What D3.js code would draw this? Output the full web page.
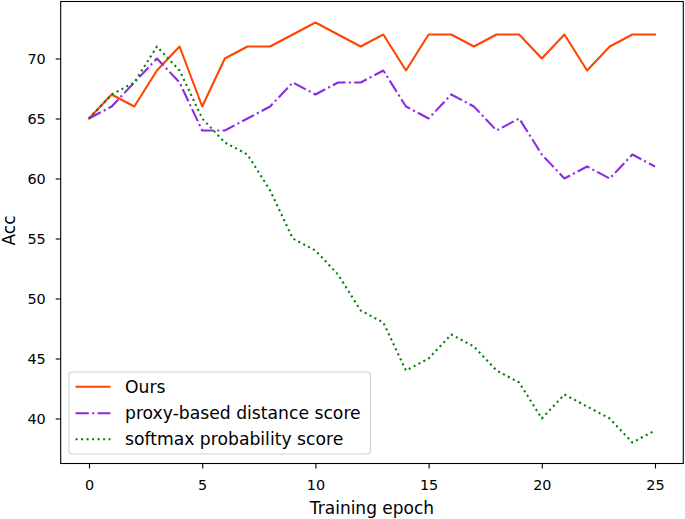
<!DOCTYPE html>
<html>
<head>
<meta charset="utf-8">
<script src="https://cdn.jsdelivr.net/npm/d3@7"></script>
<style>
  html, body { margin: 0; padding: 0; background: #fff; }
  svg { display: block; }
  text { font-family: "DejaVu Sans", sans-serif; fill: #000; }
</style>
</head>
<body>
<div id="chart"></div>
<script>
const epochs = d3.range(0, 26);
const oursValues = [65, 67, 66, 69, 71, 66, 70, 71, 71, 72, 73, 72, 71, 72, 69, 72, 72, 71, 72, 72, 70, 72, 69, 71, 72, 72];
const proxyValues = [65, 66, 68, 70, 68, 64, 64, 65, 66, 68, 67, 68, 68, 69, 66, 65, 67, 66, 64, 65, 62, 60, 61, 60, 62, 61];
const softmaxValues = [65, 67, 68, 71, 69, 65, 63, 62, 59, 55, 54, 52, 49, 48, 44, 45, 47, 46, 44, 43, 40, 42, 41, 40, 38, 39];
const seriesNames = ["Ours", "proxy-based distance score", "softmax probability score"];
const xTicks = [0, 5, 10, 15, 20, 25];
const yTicks = [40, 45, 50, 55, 60, 65, 70];
const xLabel = "Training epoch";
const yLabel = "Acc";

(function () {
const W = 685, H = 519;
const mLeft = 60.7, mRight = 683.3, mTop = 1.5, mBottom = 463.5;
const tickFont = "14.4px", labelFont = "17px", legendFont = "17.2px";

const series = [
  { name: seriesNames[0], values: oursValues, color: "#ff4500", dash: null },
  { name: seriesNames[1], values: proxyValues, color: "#8a2be2", dash: "13.3,3.3,2.1,3.3" },
  { name: seriesNames[2], values: softmaxValues, color: "#008000", dash: "2.08,3.44" }
];

const allVals = [].concat(oursValues, proxyValues, softmaxValues);
const xMin = d3.min(epochs), xMax = d3.max(epochs);
const yMin = d3.min(allVals), yMax = d3.max(allVals);
const xm = (xMax - xMin) * 0.05, ym = (yMax - yMin) * 0.05;

const x = d3.scaleLinear().domain([xMin - xm, xMax + xm]).range([mLeft, mRight]);
const y = d3.scaleLinear().domain([yMin - ym, yMax + ym]).range([mBottom, mTop]);

const svg = d3.select("#chart").append("svg").attr("width", W).attr("height", H);

const line = d3.line().x((d, i) => x(epochs[i])).y(d => y(d));

const plot = svg.append("g");
series.forEach(s => {
  plot.append("path")
    .datum(s.values)
    .attr("d", line)
    .attr("fill", "none")
    .attr("stroke", s.color)
    .attr("stroke-width", 2.08)
    .attr("stroke-linejoin", "round")
    .attr("stroke-linecap", s.dash ? "butt" : "square")
    .attr("stroke-dasharray", s.dash);
});

const xAxis = d3.axisBottom(x).tickValues(xTicks).tickSize(5).tickPadding(11.5).tickFormat(d3.format("d"));
const yAxis = d3.axisLeft(y).tickValues(yTicks).tickSize(5).tickPadding(10).tickFormat(d3.format("d"));

const gx = svg.append("g").attr("transform", `translate(0,${mBottom})`).call(xAxis);
const gy = svg.append("g").attr("transform", `translate(${mLeft},0)`).call(yAxis);
[gx, gy].forEach(g => {
  g.select(".domain").remove();
  g.selectAll(".tick line").attr("stroke", "#000").attr("stroke-width", 1.1);
  g.selectAll(".tick text").attr("font-size", tickFont).attr("font-family", "DejaVu Sans").attr("fill", "#000");
});

svg.append("rect")
  .attr("x", mLeft).attr("y", mTop)
  .attr("width", mRight - mLeft).attr("height", mBottom - mTop)
  .attr("fill", "none").attr("stroke", "#000").attr("stroke-width", 1.1);

svg.append("text")
  .attr("x", (mLeft + mRight) / 2).attr("y", 514)
  .attr("text-anchor", "middle").attr("font-size", labelFont)
  .text(xLabel);
svg.append("text")
  .attr("transform", `translate(8.5,${(mTop + mBottom) / 2 - 2}) rotate(-90)`)
  .attr("text-anchor", "middle").attr("dy", "0.36em").attr("font-size", labelFont)
  .text(yLabel);

const lg = svg.append("g");
lg.append("rect")
  .attr("x", 69).attr("y", 372)
  .attr("width", 301.5).attr("height", 82)
  .attr("rx", 3).attr("ry", 3)
  .attr("fill", "#fff").attr("fill-opacity", 0.8)
  .attr("stroke", "#d0d0d0").attr("stroke-width", 1.1);
const rowY = [386.7, 413.2, 439.2];
series.forEach((s, i) => {
  lg.append("line")
    .attr("x1", 75.5).attr("x2", 110.5)
    .attr("y1", rowY[i]).attr("y2", rowY[i])
    .attr("stroke", s.color).attr("stroke-width", 2.08)
    .attr("stroke-dasharray", s.dash);
  lg.append("text")
    .attr("x", 125).attr("y", rowY[i]).attr("dy", "0.36em")
    .attr("font-size", legendFont)
    .text(s.name);
});
})();
</script>
</body>
</html>
